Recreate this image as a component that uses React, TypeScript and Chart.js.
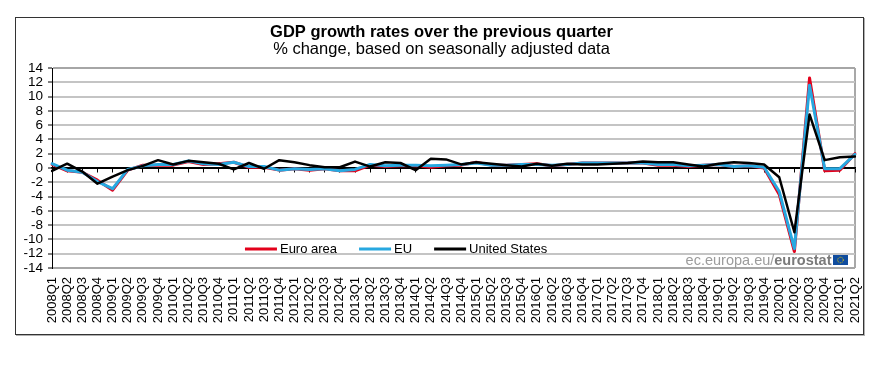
import { useEffect, useRef } from 'react';
import { Chart, registerables } from 'chart.js';

Chart.register(...registerables);

const quarters = [
  '2008Q1', '2008Q2', '2008Q3', '2008Q4',
  '2009Q1', '2009Q2', '2009Q3', '2009Q4',
  '2010Q1', '2010Q2', '2010Q3', '2010Q4',
  '2011Q1', '2011Q2', '2011Q3', '2011Q4',
  '2012Q1', '2012Q2', '2012Q3', '2012Q4',
  '2013Q1', '2013Q2', '2013Q3', '2013Q4',
  '2014Q1', '2014Q2', '2014Q3', '2014Q4',
  '2015Q1', '2015Q2', '2015Q3', '2015Q4',
  '2016Q1', '2016Q2', '2016Q3', '2016Q4',
  '2017Q1', '2017Q2', '2017Q3', '2017Q4',
  '2018Q1', '2018Q2', '2018Q3', '2018Q4',
  '2019Q1', '2019Q2', '2019Q3', '2019Q4',
  '2020Q1', '2020Q2', '2020Q3', '2020Q4',
  '2021Q1', '2021Q2',
];

const euroArea = [
  0.5, -0.4, -0.6, -1.7,
  -3.1, -0.3, 0.4, 0.4,
  0.4, 0.9, 0.5, 0.6,
  0.8, 0.1, 0.1, -0.3,
  -0.1, -0.3, -0.1, -0.4,
  -0.4, 0.4, 0.2, 0.3,
  0.3, 0.1, 0.3, 0.4,
  0.8, 0.4, 0.4, 0.5,
  0.6, 0.3, 0.5, 0.7,
  0.7, 0.7, 0.7, 0.7,
  0.4, 0.4, 0.2, 0.4,
  0.5, 0.2, 0.3, 0.0,
  -3.7, -11.7, 12.6, -0.4,
  -0.3, 2.0,
];

const eu = [
  0.6, -0.3, -0.6, -1.9,
  -2.9, -0.2, 0.3, 0.5,
  0.5, 1.0, 0.6, 0.5,
  0.8, 0.2, 0.2, -0.3,
  -0.1, -0.2, -0.1, -0.4,
  -0.2, 0.5, 0.3, 0.4,
  0.4, 0.3, 0.4, 0.5,
  0.7, 0.4, 0.4, 0.5,
  0.5, 0.4, 0.5, 0.7,
  0.7, 0.7, 0.7, 0.7,
  0.5, 0.5, 0.3, 0.4,
  0.5, 0.2, 0.3, 0.1,
  -3.3, -11.3, 11.6, -0.1,
  -0.1, 1.9,
];

const unitedStates = [
  -0.4, 0.6, -0.5, -2.2,
  -1.2, -0.3, 0.3, 1.1,
  0.5, 1.0, 0.8, 0.6,
  -0.2, 0.7, -0.1, 1.1,
  0.8, 0.4, 0.1, 0.1,
  0.9, 0.2, 0.8, 0.7,
  -0.3, 1.3, 1.2, 0.5,
  0.8, 0.6, 0.4, 0.2,
  0.6, 0.3, 0.6, 0.5,
  0.5, 0.6, 0.7, 0.9,
  0.8, 0.8, 0.5, 0.2,
  0.6, 0.8, 0.7, 0.5,
  -1.3, -9.0, 7.5, 1.1,
  1.5, 1.6,
];

const yMin = -14;
const yMax = 14;
const yStep = 2;

const titleText = 'GDP growth rates over the previous quarter';
const subtitleText = '% change, based on seasonally adjusted data';
const sourceText = 'ec.europa.eu/';
const sourceBold = 'eurostat';

const FONT = "Arial, 'Liberation Sans', Helvetica, sans-serif";

const insideLegend = {
  id: 'insideLegend',
  afterDatasetsDraw(chart: any) {
    const { ctx, chartArea } = chart;
    ctx.save();
    // legend
    ctx.font = `13px ${FONT}`;
    ctx.textBaseline = 'middle';
    ctx.textAlign = 'left';
    let x = chartArea.left + chartArea.width * 0.2403;
    const y = chartArea.bottom - 19;
    chart.data.datasets.forEach((ds: any) => {
      ctx.strokeStyle = ds.borderColor;
      ctx.lineWidth = 3;
      ctx.beginPath();
      ctx.moveTo(x, y);
      ctx.lineTo(x + 32, y);
      ctx.stroke();
      ctx.fillStyle = '#000';
      ctx.fillText(ds.label, x + 35, y + 0.5);
      x += 35 + ctx.measureText(ds.label).width + 22;
    });
    // source watermark
    const flagW = 15;
    const flagH = 10;
    const fx = chartArea.right - 7 - flagW;
    const fy = chartArea.bottom - 3 - flagH;
    ctx.fillStyle = '#0f4c9e';
    ctx.fillRect(fx, fy, flagW, flagH);
    ctx.strokeStyle = '#f5d000';
    ctx.lineWidth = 1;
    ctx.setLineDash([1, 1]);
    ctx.beginPath();
    ctx.arc(fx + flagW / 2, fy + flagH / 2, 2.8, 0, Math.PI * 2);
    ctx.stroke();
    ctx.setLineDash([]);
    ctx.textBaseline = 'alphabetic';
    ctx.textAlign = 'right';
    const base = chartArea.bottom - 3.5;
    const tx = fx - 1.5;
    ctx.font = `bold 14.5px ${FONT}`;
    ctx.fillStyle = '#7a7a7a';
    ctx.fillText(sourceBold, tx, base);
    const w = ctx.measureText(sourceBold).width;
    ctx.font = `14.5px ${FONT}`;
    ctx.fillStyle = '#9c9c9c';
    ctx.fillText(sourceText, tx - w, base);
    ctx.restore();
  },
};

export default function App() {
  const ref = useRef<HTMLCanvasElement | null>(null);

  useEffect(() => {
    const canvas = ref.current;
    if (!canvas) return;
    const lastIndex = quarters.length - 1;
    const chart = new Chart(canvas, {
      type: 'line',
      data: {
        labels: quarters,
        datasets: [
          {
            label: 'Euro area',
            data: euroArea,
            borderColor: '#e3001b',
            backgroundColor: '#e3001b',
            borderWidth: 3,
            order: 3,
            xAxisID: 'x',
            yAxisID: 'y',
          },
          {
            label: 'EU',
            data: eu,
            borderColor: '#27a8e0',
            backgroundColor: '#27a8e0',
            borderWidth: 3,
            order: 2,
            xAxisID: 'x',
            yAxisID: 'y',
          },
          {
            label: 'United States',
            data: unitedStates,
            borderColor: '#000000',
            backgroundColor: '#000000',
            borderWidth: 2.5,
            order: 1,
            xAxisID: 'x',
            yAxisID: 'y',
          },
        ],
      },
      options: {
        responsive: false,
        animation: false,
        devicePixelRatio: 1,
        layout: { padding: { left: 5, right: 0, top: 0, bottom: 0 } },
        elements: {
          point: { radius: 0, hoverRadius: 0 },
          line: { tension: 0, borderJoinStyle: 'round', borderCapStyle: 'round' },
        },
        plugins: {
          legend: { display: false },
          tooltip: { enabled: false },
          title: {
            display: true,
            text: titleText,
            color: '#000',
            font: { family: FONT, size: 16.5, weight: 'bold', lineHeight: 1 },
            padding: { top: 6.45, bottom: 0 },
          },
          subtitle: {
            display: true,
            text: subtitleText,
            color: '#000',
            font: { family: FONT, size: 16.5, weight: 'normal', lineHeight: 1 },
            padding: { top: 0.3, bottom: 10.25 },
          },
        },
        scales: {
          x: {
            type: 'category',
            position: 'bottom',
            offset: false,
            grid: {
              display: true,
              drawTicks: false,
              color: (c: any) => (c.index === lastIndex ? '#a8a8a8' : 'rgba(0,0,0,0)'),
              lineWidth: 2,
            },
            border: { display: false },
            ticks: {
              autoSkip: false,
              maxRotation: 90,
              minRotation: 90,
              padding: 9,
              color: '#000',
              font: { family: FONT, size: 13 },
            },
            afterFit: (s: any) => {
              s.height = 65;
              s.paddingLeft = 0;
              s.paddingRight = 7;
            },
          },
          x2: {
            type: 'category',
            position: { y: 0 },
            offset: false,
            grid: {
              display: true,
              drawOnChartArea: false,
              drawTicks: true,
              tickLength: 4,
              tickColor: '#000',
              tickWidth: 1,
              color: '#000',
            },
            border: { display: true, color: '#000', width: 1.5 },
            ticks: { display: false },
            afterFit: (s: any) => {
              s.paddingLeft = 0;
              s.paddingRight = 0;
            },
          },
          y: {
            type: 'linear',
            position: 'left',
            min: yMin,
            max: yMax,
            ticks: {
              stepSize: yStep,
              autoSkip: false,
              padding: 5,
              color: '#000',
              font: { family: FONT, size: 13.5 },
            },
            grid: {
              color: (c: any) =>
                c.tick.value === 0 ? '#000' : Math.abs(c.tick.value) === yMax ? '#a6a6a6' : '#c4c4c4',
              lineWidth: 2,
              tickLength: 4,
              tickColor: '#000',
              tickWidth: 1,
            },
            border: { display: true, color: '#000', width: 1 },
            afterFit: (s: any) => {
              s.width = 31;
            },
          },
        },
      },
      plugins: [insideLegend],
    } as any);
    return () => chart.destroy();
  }, []);

  return (
    <div style={{ position: 'relative', width: 866, height: 349 }}>
      <div
        style={{
          position: 'absolute',
          left: 7,
          top: 9,
          width: 849,
          height: 318,
          border: '1px solid #333',
          boxSizing: 'border-box',
          boxShadow: '1px 1px 0 #b0b0b0',
        }}
      />
      <canvas
        ref={ref}
        width={846}
        height={315}
        style={{ position: 'absolute', left: 8, top: 10, width: 846, height: 315 }}
      />
    </div>
  );
}
